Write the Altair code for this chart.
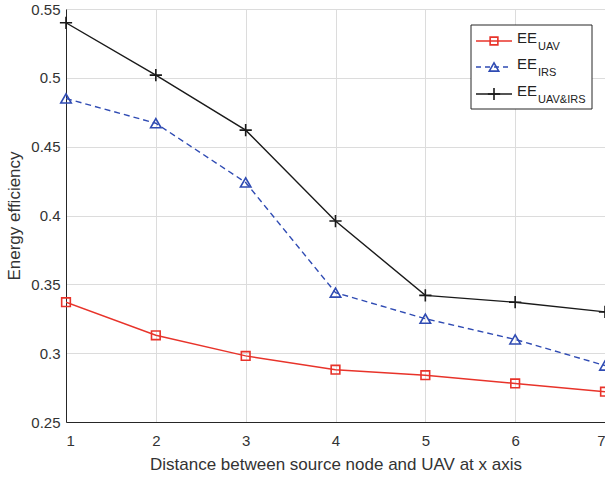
import altair as alt
import pandas as pd

distance = [1, 2, 3, 4, 5, 6, 7]
ee_uav = [0.337, 0.313, 0.298, 0.288, 0.284, 0.278, 0.272]
ee_irs = [0.485, 0.467, 0.424, 0.344, 0.325, 0.310, 0.291]
ee_both = [0.540, 0.502, 0.462, 0.396, 0.342, 0.337, 0.330]
y_ticks = [0.25, 0.3, 0.35, 0.4, 0.45, 0.5, 0.55]

RED = "#e8332a"
BLUE = "#2f4bb3"
BLACK = "#1a1a1a"
FONT = "Liberation Sans"
PLUS = "M-1,0H1M0,-1V1"
L, T = 66, 9

df_uav = pd.DataFrame({"x": distance, "y": ee_uav})
df_irs = pd.DataFrame({"x": distance, "y": ee_irs})
df_both = pd.DataFrame({"x": distance, "y": ee_both})

xs = alt.Scale(domain=[1, 7], nice=False, zero=False)
ys = alt.Scale(domain=[0.25, 0.55], nice=False, zero=False)

xax = alt.Axis(values=distance, format="d", title="Distance between source node and UAV at x axis",
               grid=True, gridColor="#dcdcdc", labelFontSize=15, titleFontSize=17,
               labelColor="#333", titleColor="#333", titleFontWeight="normal",
               domainColor="#262626", ticks=False, labelPadding=11, titlePadding=8,
               labelFont=FONT, titleFont=FONT)
yax = alt.Axis(values=y_ticks, format=".2~f", title="Energy efficiency",
               grid=True, gridColor="#dcdcdc", labelFontSize=15, titleFontSize=17,
               labelColor="#333", titleColor="#333", titleFontWeight="normal",
               domainColor="#262626", ticks=False, labelPadding=6, titlePadding=7,
               labelFont=FONT, titleFont=FONT)


def series(df, color, shape, size, dash=None):
    line_kwargs = dict(color=color, strokeWidth=1.4, clip=True)
    if dash:
        line_kwargs["strokeDash"] = dash
    line = alt.Chart(df).mark_line(**line_kwargs).encode(
        x=alt.X("x:Q", scale=xs, axis=xax),
        y=alt.Y("y:Q", scale=ys, axis=yax),
    )
    pts = alt.Chart(df).mark_point(shape=shape, size=size, color=color, filled=False,
                                   strokeWidth=1.6, opacity=1).encode(
        x=alt.X("x:Q", scale=xs), y=alt.Y("y:Q", scale=ys))
    return line + pts


base = series(df_uav, RED, "square", 75) + \
    series(df_irs, BLUE, "triangle-up", 110, dash=[6, 4]) + \
    series(df_both, BLACK, PLUS, 150)

# legend built by hand (subscripts)
one = pd.DataFrame({"a": [0]})
leg_box = alt.Chart(one).mark_rect(fill="white", stroke="#262626", strokeWidth=1).encode(
    x=alt.value(471 - L), x2=alt.value(592 - L), y=alt.value(25 - T), y2=alt.value(109 - T))

items = [("UAV", RED, "square", 60, None, 41),
         ("IRS", BLUE, "triangle-up", 90, [5, 4], 67),
         ("UAV&IRS", BLACK, PLUS, 150, None, 94)]
legend_layers = [leg_box]
for sub, color, shape, size, dash, yy in items:
    lk = dict(color=color, strokeWidth=1.4)
    if dash:
        lk["strokeDash"] = dash
    legend_layers.append(alt.Chart(one).mark_rule(**lk).encode(
        x=alt.value(476 - L), x2=alt.value(512 - L), y=alt.value(yy - T)))
    legend_layers.append(alt.Chart(one).mark_point(shape=shape, size=size, color=color,
                                                   filled=False, strokeWidth=1.6, opacity=1).encode(
        x=alt.value(494 - L), y=alt.value(yy - T)))
    legend_layers.append(alt.Chart(one).mark_text(text="EE", align="left", baseline="middle",
                                                  fontSize=15, font=FONT, color="#222").encode(
        x=alt.value(517 - L), y=alt.value(yy - 3 - T)))
    legend_layers.append(alt.Chart(one).mark_text(text=sub, align="left", baseline="middle",
                                                  fontSize=11, font=FONT, color="#222").encode(
        x=alt.value(538 - L), y=alt.value(yy + 6 - T)))

chart = alt.layer(base, *legend_layers).properties(
    width=539, height=413,
    autosize=alt.AutoSizeParams(type="none"),
    padding={"left": L, "top": T, "right": 0, "bottom": 55},
).configure_view(stroke="#262626", strokeWidth=1).configure(background="white")

chart.save("out.html", embed_options={"renderer": "svg", "actions": False})
